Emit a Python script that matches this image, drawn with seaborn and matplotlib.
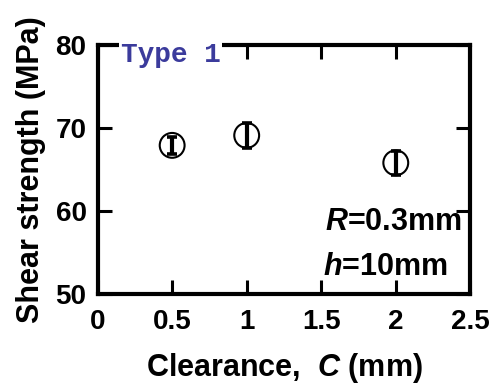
import matplotlib
matplotlib.use("Agg")
import matplotlib.pyplot as plt
import seaborn as sns
import pandas as pd

clearance = [0.5, 1.0, 2.0]
strength = [67.9, 69.1, 65.8]
err = [1.0, 1.5, 1.45]
xticks = [0, 0.5, 1, 1.5, 2, 2.5]
xticklabels = ["0", "0.5", "1", "1.5", "2", "2.5"]
yticks = [50, 60, 70, 80]

sns.set_theme(style="ticks")
plt.rcParams['font.family'] = ['Liberation Sans', 'DejaVu Sans']
plt.rcParams['mathtext.fontset'] = 'custom'
plt.rcParams['mathtext.it'] = 'Liberation Sans:italic:bold'
plt.rcParams['mathtext.rm'] = 'Liberation Sans:bold'
for k in ['text.color', 'axes.labelcolor', 'xtick.color', 'ytick.color', 'axes.edgecolor']:
    plt.rcParams[k] = 'black'

df = pd.DataFrame({"C": clearance, "S": strength, "E": err})

fig = plt.figure(figsize=(4.93, 3.90), dpi=100)
ax = fig.add_axes([0.198, 0.246, 0.756, 0.639])

ax.errorbar(df["C"], df["S"], yerr=df["E"], fmt="none", ecolor="black",
            elinewidth=3.0, capsize=3.3, capthick=2.6, zorder=2)
sns.scatterplot(data=df, x="C", y="S", ax=ax, marker="o", s=320,
                facecolor="none", edgecolor="black", linewidth=1.5, zorder=3)

ax.set_xlim(0, 2.5)
ax.set_ylim(50, 80)
ax.set_xticks(xticks)
ax.set_xticklabels(xticklabels)
ax.set_yticks(yticks)
for s in ax.spines.values():
    s.set_linewidth(3)
    s.set_color("black")
ax.tick_params(direction="in", length=10, width=2.2, top=True, right=True,
               labelsize=20, colors="black")
ax.tick_params(axis="y", pad=8)
ax.tick_params(axis="x", pad=11)
for lab in ax.get_xticklabels() + ax.get_yticklabels():
    lab.set_fontweight("bold")

ax.set_xlabel("Clearance,  $\\mathit{C}$ (mm)", fontsize=22, fontweight="bold", labelpad=11)
ax.set_ylabel("Shear strength (MPa)", fontsize=22, fontweight="bold", labelpad=7)

ax.text(0.062, 0.932, "Type 1", transform=ax.transAxes, fontsize=20, fontweight="bold",
        family=["Liberation Mono", "DejaVu Sans Mono"], color="#3b3b9c",
        ha="left", va="baseline",
        bbox=dict(facecolor="white", edgecolor="none", pad=1), zorder=5)

ax.text(0.611, 0.257, "$\\mathit{R}$=0.3mm", transform=ax.transAxes, fontsize=22,
        fontweight="bold", ha="left", va="baseline")
ax.text(0.606, 0.076, "$\\mathit{h}$=10mm", transform=ax.transAxes, fontsize=22,
        fontweight="bold", ha="left", va="baseline")

fig.savefig("out.png", dpi=100)
